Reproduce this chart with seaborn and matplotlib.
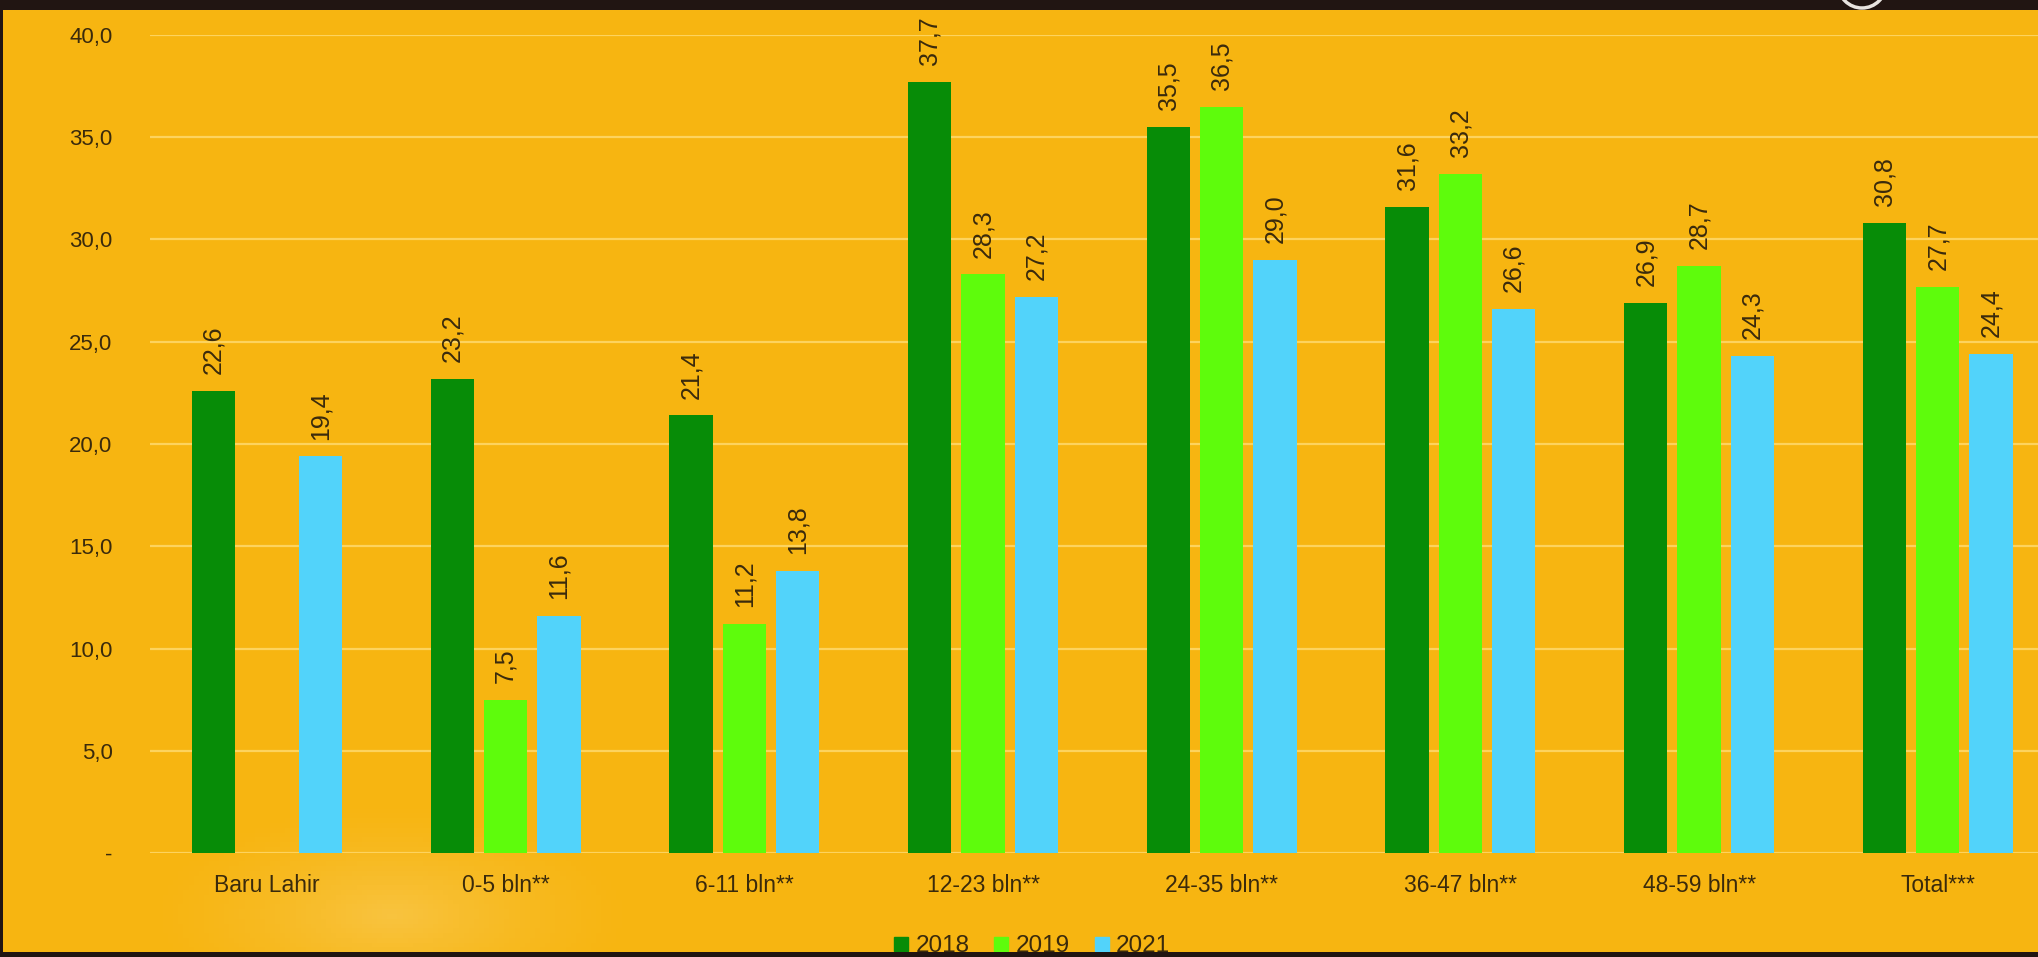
import matplotlib
matplotlib.use("Agg")
import matplotlib.pyplot as plt
from matplotlib.lines import Line2D
from matplotlib.patches import Rectangle, Ellipse
import numpy as np
import pandas as pd
import seaborn as sns

# Stunting prevalence by age group
categories = ["Baru Lahir", "0-5 bln**", "6-11 bln**", "12-23 bln**",
              "24-35 bln**", "36-47 bln**", "48-59 bln**", "Total***"]
years = ["2018", "2019", "2021"]
vals_2018 = [22.6, 23.2, 21.4, 37.7, 35.5, 31.6, 26.9, 30.8]
vals_2019 = [np.nan, 7.5, 11.2, 28.3, 36.5, 33.2, 28.7, 27.7]
vals_2021 = [19.4, 11.6, 13.8, 27.2, 29.0, 26.6, 24.3, 24.4]
yticks = [0, 5, 10, 15, 20, 25, 30, 35, 40]

colors = {"2018": "#078C07", "2019": "#5EFC0C", "2021": "#52D3FA"}
bg = "#F7B511"
dark = "#211512"
text_c = "#3A2A0C"

df = pd.DataFrame({
    "kategori": categories * 3,
    "tahun": [y for y in years for _ in categories],
    "nilai": vals_2018 + vals_2019 + vals_2021,
})

sns.set_theme(style="white")
plt.rcParams["font.family"] = ["Liberation Sans", "DejaVu Sans"]

W, H = 2038, 957
fig = plt.figure(figsize=(W / 100, H / 100), dpi=100, facecolor=bg)

# soft light glow in the lower-left background
glow = fig.add_axes([0, 0, 1, 1], zorder=-5)
gx, gy = np.meshgrid(np.linspace(0, W, 400), np.linspace(0, H, 200))
r = np.sqrt(((gx - 390) / 260) ** 2 + ((gy - 40) / 120) ** 2)
alpha = np.clip(1 - r, 0, 1) ** 1.5 * 0.2
rgba = np.zeros(gx.shape + (4,))
rgba[..., :3] = 1.0
rgba[..., 3] = alpha
glow.imshow(rgba, extent=(0, W, 0, H), origin="lower", aspect="auto")
glow.set_axis_off()

ax = fig.add_axes([150 / W, (H - 853) / H, 1 - 150 / W, (853 - 35) / H])
ax.patch.set_alpha(0)

sns.barplot(data=df, x="kategori", y="nilai", hue="tahun", order=categories,
            hue_order=years, palette=colors, width=0.67, gap=0.19,
            errorbar=None, legend=False, ax=ax, zorder=3, saturation=1,
            linewidth=0, edgecolor="none")

for cont in ax.containers:
    labels = [f"{v:.1f}".replace(".", ",") for v in cont.datavalues]
    ax.bar_label(cont, labels=labels, rotation=90, padding=12,
                 fontsize=18, color=text_c)

ax.set_xlim(-0.49, 7.42)
ax.set_ylim(0, 40)
ax.set_yticks(yticks)
ax.set_yticklabels(["-"] + [f"{t:.1f}".replace(".", ",") for t in yticks[1:]])
ax.grid(axis="y", color="#FDD35E", linewidth=1.6, zorder=0)
ax.grid(axis="x", visible=False)
for s in ax.spines.values():
    s.set_visible(False)
ax.tick_params(axis="y", length=0, pad=27, labelsize=16, labelcolor=text_c)
ax.tick_params(axis="x", length=0, pad=15, labelsize=16.5, labelcolor=text_c)
ax.set_xlabel("")
ax.set_ylabel("")

handles = [Line2D([], [], marker="s", linestyle="", markersize=10,
                  markerfacecolor=colors[y], markeredgecolor=colors[y], label=y)
           for y in years]
fig.legend(handles=handles, loc="center", bbox_to_anchor=(1032 / W, 11 / H),
           ncol=3, frameon=False, fontsize=17.5, handlelength=0.6,
           handletextpad=0.3, columnspacing=1.0, labelcolor=text_c,
           borderpad=0, borderaxespad=0)

# dark frame bands
fig.add_artist(Rectangle((0, 1 - 10 / H), 1, 10 / H, transform=fig.transFigure,
                         facecolor=dark, edgecolor="none", zorder=20))
fig.add_artist(Rectangle((0, 0), 1, 5 / H, transform=fig.transFigure,
                         facecolor=dark, edgecolor="none", zorder=20))
fig.add_artist(Rectangle((0, 0), 3 / W, 1, transform=fig.transFigure,
                         facecolor=dark, edgecolor="none", zorder=20))
# small ring icon peeking in at the top edge
fig.add_artist(Ellipse((1862 / W, 1 + 16 / H), 48 / W, 48 / H,
                       transform=fig.transFigure, facecolor="none",
                       edgecolor="#E8E4E0", linewidth=2.5, zorder=21))

fig.savefig("out.png", dpi=100, facecolor=bg)
